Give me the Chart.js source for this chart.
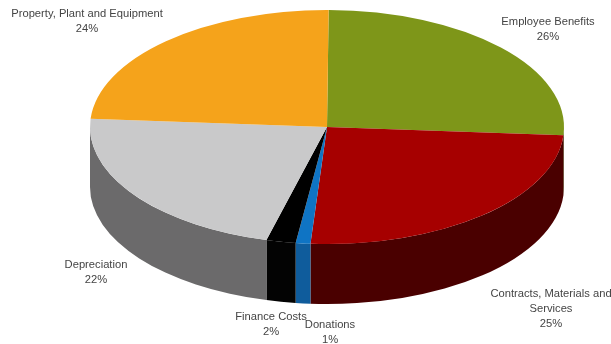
<!DOCTYPE html>
<html>
<head>
<meta charset="utf-8">
<title>Expenditure</title>
<script src="https://cdn.jsdelivr.net/npm/chart.js@4"></script>
<style>
    html, body { margin: 0; padding: 0; background: #fff; }
    canvas { display: block; }
</style>
</head>
<body>
<canvas id="camembert" width="611" height="344"></canvas>
<script>
// postes de depenses, dans le sens horaire depuis midi
const categories = ["Employee Benefits", "Contracts, Materials and Services", "Donations", "Finance Costs", "Depreciation", "Property, Plant and Equipment"];
const valeurs = [26, 25, 1, 2, 22, 24];
const couleurs = ["#7e9619", "#a60000", "#0f74c4", "#000000", "#c9c9ca", "#f5a31b"];
const couleursFlanc = ["#3f4a0c", "#4a0000", "#0f5c9c", "#030303", "#6b6a6b", "#7a500c"];

// lignes de texte et centre de chaque etiquette
const lignes = [["Employee Benefits"], ["Contracts, Materials and", "Services"], ["Donations"], ["Finance Costs"], ["Depreciation"], ["Property, Plant and Equipment"]];
const ancres = [[548, 22], [551, 294], [330, 325], [271, 317], [96, 265], [87, 14]];

// forme du disque
const forme = { cx: 327, cy: 127, rx: 237, ry: 117, epaisseur: 60 };

function dessinerFlancs(chart) {
    const ctx = chart.ctx;
    chart.getDatasetMeta(0).data.forEach(function (arc, i) {
        const a = Math.max(arc.startAngle, 0);
        const b = Math.min(arc.endAngle, Math.PI);
        if (b <= a) return;
        ctx.beginPath();
        ctx.ellipse(forme.cx, forme.cy, forme.rx, forme.ry, 0, a, b);
        ctx.ellipse(forme.cx, forme.cy + forme.epaisseur, forme.rx, forme.ry, 0, b, a, true);
        ctx.closePath();
        ctx.fillStyle = couleursFlanc[i];
        ctx.fill();
    });
}

const disque3d = {
    id: "disque3d",
    beforeDatasetsDraw(chart) {
        dessinerFlancs(chart);
        const arc = chart.getDatasetMeta(0).data[0];
        const ctx = chart.ctx;
        ctx.save();
        // le disque est etire en ellipse autour de son centre
        ctx.translate(forme.cx, forme.cy);
        ctx.scale(forme.rx / arc.outerRadius, forme.ry / arc.outerRadius);
        ctx.translate(-arc.x, -arc.y);
    },
    afterDatasetsDraw(chart) {
        chart.ctx.restore();
    }
};

const etiquettes = {
    id: "etiquettes",
    afterDraw(chart) {
        const ctx = chart.ctx;
        ctx.save();
        ctx.font = "11.2px 'Liberation Sans'";
        ctx.fillStyle = "#444444";
        ctx.textAlign = "center";
        ctx.textBaseline = "middle";
        lignes.forEach(function (texte, i) {
            const contenu = texte.concat(valeurs[i] + "%");
            contenu.forEach(function (ligne, n) {
                ctx.fillText(ligne, ancres[i][0], ancres[i][1] + n * 15);
            });
        });
        ctx.restore();
    }
};

new Chart(document.getElementById("camembert"), {
    type: "pie",
    data: {
        labels: categories,
        datasets: [{
            data: valeurs,
            backgroundColor: couleurs,
            borderWidth: 0,
            clip: false
        }]
    },
    options: {
        responsive: false,
        animation: false,
        rotation: 0.4,
        plugins: {
            legend: { display: false },
            tooltip: { enabled: false }
        }
    },
    plugins: [disque3d, etiquettes]
});
</script>
</body>
</html>
